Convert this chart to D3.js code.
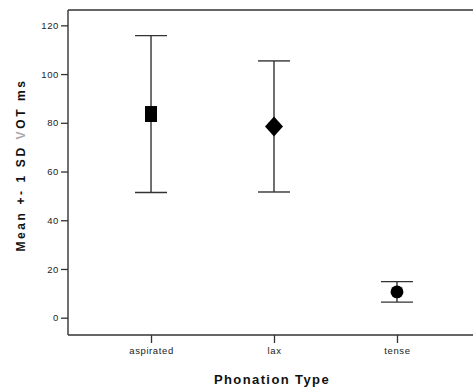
<!DOCTYPE html>
<html>
<head>
<meta charset="utf-8">
<script src="https://cdn.jsdelivr.net/npm/d3@7/dist/d3.min.js"></script>
<style>
  body { margin: 0; background: #fff; }
  text { font-family: "Liberation Sans", Arial, sans-serif; }
</style>
</head>
<body>
<div id="chart"></div>
<script>
var categories = ["aspirated", "lax", "tense"];
var means = [83.6, 78.5, 10.6];
var sds = [32.2, 26.9, 4.2];
var shapes = ["square", "diamond", "circle"];
var yTicks = [0, 20, 40, 60, 80, 100, 120];

var margin = {top: 10, right: -7, bottom: 54, left: 68};
var width = 473 - margin.left - margin.right,
    height = 389 - margin.top - margin.bottom;

var data = categories.map(function(c, i) {
  return {cat: c, mean: means[i], sd: sds[i], shape: shapes[i]};
});

var xScale = d3.scalePoint()
  .domain(categories)
  .range([0, width])
  .padding(0.675);

var yScale = d3.scaleLinear()
  .domain([-7.1, 126.3])
  .range([height, 0]);

var svg = d3.select("#chart").append("svg")
    .attr("width", 473)
    .attr("height", 389)
  .append("g")
    .attr("transform", "translate(" + margin.left + "," + margin.top + ")");

var lineColor = "#333";

// frame top
svg.append("line")
  .attr("x1", 0).attr("x2", width)
  .attr("y1", 0).attr("y2", 0)
  .attr("stroke", lineColor).attr("stroke-width", 1.4);

var yAxis = d3.axisLeft(yScale)
  .tickValues(yTicks)
  .tickSize(7)
  .tickPadding(2);

var xAxis = d3.axisBottom(xScale)
  .tickSize(8)
  .tickPadding(4);

var gy = svg.append("g").attr("class", "y axis").call(yAxis);
var gx = svg.append("g").attr("class", "x axis")
  .attr("transform", "translate(0," + height + ")")
  .call(xAxis);

[gx, gy].forEach(function(g) {
  g.select(".domain").attr("stroke", lineColor).attr("stroke-width", 1.4);
  g.selectAll(".tick line").attr("stroke", lineColor).attr("stroke-width", 1.3);
  g.selectAll(".tick text").attr("fill", "#222")
    .style("font-size", "9.5px")
    .style("letter-spacing", "0.6px");
});
gx.select(".domain").attr("d", "M0,0H" + width);
gy.select(".domain").attr("d", "M0,0V" + height);

// error bars
var bars = svg.selectAll(".err")
  .data(data)
  .enter().append("g")
  .attr("class", "err")
  .attr("stroke", lineColor)
  .attr("stroke-width", 1.4);

bars.append("line")
  .attr("x1", function(d) { return xScale(d.cat); })
  .attr("x2", function(d) { return xScale(d.cat); })
  .attr("y1", function(d) { return yScale(d.mean + d.sd); })
  .attr("y2", function(d) { return yScale(d.mean - d.sd); });

bars.append("line")
  .attr("x1", function(d) { return xScale(d.cat) - 16; })
  .attr("x2", function(d) { return xScale(d.cat) + 16; })
  .attr("y1", function(d) { return yScale(d.mean + d.sd); })
  .attr("y2", function(d) { return yScale(d.mean + d.sd); });

bars.append("line")
  .attr("x1", function(d) { return xScale(d.cat) - 16; })
  .attr("x2", function(d) { return xScale(d.cat) + 16; })
  .attr("y1", function(d) { return yScale(d.mean - d.sd); })
  .attr("y2", function(d) { return yScale(d.mean - d.sd); });

// markers
svg.selectAll(".marker")
  .data(data)
  .enter().append("path")
  .attr("class", "marker")
  .attr("transform", function(d) { return "translate(" + xScale(d.cat) + "," + yScale(d.mean) + ")"; })
  .attr("d", function(d) {
    if (d.shape == "square") return "M-6,-8H6V8H-6Z";
    if (d.shape == "diamond") return "M0,-10L9,0L0,10L-9,0Z";
    return d3.symbol().type(d3.symbolCircle).size(130)();
  })
  .attr("fill", "#000");

// axis titles
svg.append("text")
  .attr("x", 204)
  .attr("y", height + 49)
  .attr("text-anchor", "middle")
  .style("font-size", "13px")
  .style("font-weight", "bold")
  .style("letter-spacing", "1.4px")
  .attr("fill", "#111")
  .text("Phonation Type");

var yt = svg.append("text")
  .attr("transform", "translate(-43," + 155 + ") rotate(-90)")
  .attr("text-anchor", "middle")
  .style("font-size", "12px")
  .style("font-weight", "bold")
  .style("letter-spacing", "2.6px")
  .attr("fill", "#111");
yt.append("tspan").text("Mean +- 1 SD ");
yt.append("tspan").attr("fill", "#aaa").text("V");
yt.append("tspan").text("OT ms");
</script>
</body>
</html>
